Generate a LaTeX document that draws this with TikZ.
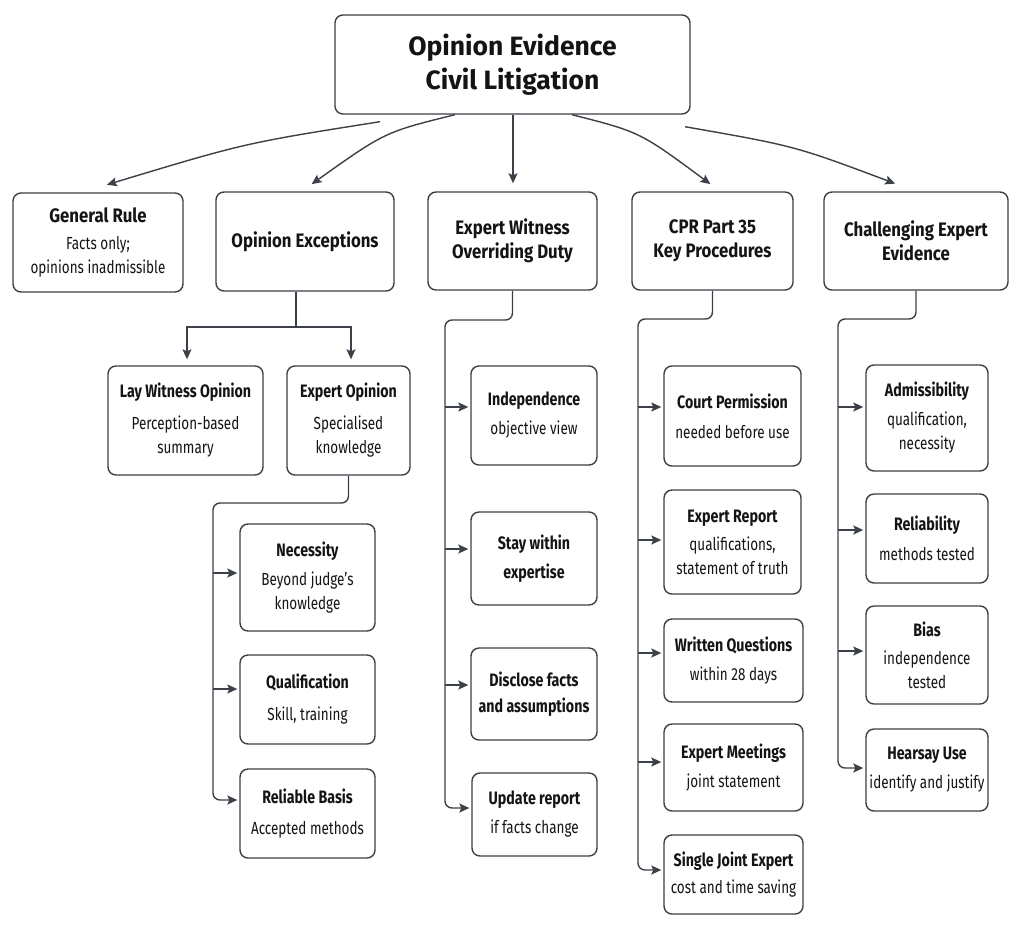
\documentclass[tikz,border=0pt]{standalone}
\usepackage{fontspec}
\setmainfont{Fira Sans}
\newfontfamily\bodyf{Fira Sans}[FakeStretch=0.77]
\newfontfamily\hdf{Fira Sans}[FakeStretch=0.79]
\newfontfamily\tophdf{Fira Sans}[FakeStretch=0.86]
\usetikzlibrary{arrows.meta,calc}
\definecolor{ln}{HTML}{3C4048}
\definecolor{tx}{HTML}{141414}
\newcommand{\hd}[1]{{\hdf\fontsize{18}{24}\selectfont\bfseries #1}}
\newcommand{\tophd}[1]{{\tophdf\fontsize{19.5}{25}\selectfont\bfseries #1}}
\tikzset{
  box/.style={draw=ln, line width=1.4pt, rounded corners=8pt, fill=white, align=center,
    text=tx, inner sep=2pt, font=\bodyf\fontsize{17.5}{24}\selectfont},
  arr/.style={draw=ln, line width=1.4pt, -{Stealth[length=10pt,width=9pt,inset=2pt]}, shorten >=2pt},
  trunk/.style={draw=ln, line width=1.4pt, rounded corners=7pt},
}
\begin{document}
\begin{tikzpicture}[x=1pt,y=-1pt]
\useasboundingbox[fill=white] (0,0) rectangle (1024,932);
% title
\node[box, minimum width=355pt, minimum height=99pt, font=\fontsize{26.5}{34}\selectfont\bfseries] (title) at (512.5,64.5) {Opinion Evidence\\Civil Litigation};
% level 1
\node[box, minimum width=170pt, minimum height=99pt] (gen) at (98,242.5) {\tophd{General Rule}\\[3pt]Facts only;\\opinions inadmissible};
\node[box, minimum width=178pt, minimum height=99pt] (exc) at (305,241.5) {\tophd{Opinion Exceptions}};
\node[box, minimum width=169pt, minimum height=98pt] (duty) at (512.5,241) {\tophd{Expert Witness}\\\tophd{Overriding Duty}};
\node[box, minimum width=161pt, minimum height=98pt] (cpr) at (712.5,241) {\tophd{CPR Part 35}\\\tophd{Key Procedures}};
\node[box, minimum width=184pt, minimum height=98pt] (chal) at (916,241) {\tophd{Challenging Expert}\\\tophd{Evidence}};
% opinion exceptions children
\node[box, minimum width=155pt, minimum height=109pt] (lay) at (185.5,420.5) {\hd{Lay Witness Opinion}\\[8pt]Perception-based\\summary};
\node[box, minimum width=123pt, minimum height=109pt] (expop) at (348.5,420.5) {\hd{Expert Opinion}\\[8pt]Specialised\\knowledge};
\node[box, minimum width=135pt, minimum height=107pt] (nec) at (307.5,577.5) {\hd{Necessity}\\[5pt]Beyond judge’s\\knowledge};
\node[box, minimum width=135pt, minimum height=89pt] (qual) at (307.5,699.5) {\hd{Qualification}\\[8pt]Skill, training};
\node[box, minimum width=135pt, minimum height=89pt] (rel) at (307.5,813.5) {\hd{Reliable Basis}\\[7pt]Accepted methods};
% duty children
\node[box, minimum width=126pt, minimum height=99pt] (ind) at (534,415.5) {\hd{Independence}\\[5pt]objective view};
\node[box, minimum width=126pt, minimum height=93pt] (stay) at (534,558.5) {\hd{Stay within}\\[5pt]\hd{expertise}};
\node[box, minimum width=126pt, minimum height=92pt] (disc) at (534,694) {\hd{Disclose facts}\\[2pt]\hd{and assumptions}};
\node[box, minimum width=125pt, minimum height=83pt] (upd) at (534.5,814.5) {\hd{Update report}\\[5pt]if facts change};
% cpr children
\node[box, minimum width=137pt, minimum height=100pt] (perm) at (732.5,416) {\hd{Court Permission}\\[6pt]needed before use};
\node[box, minimum width=137pt, minimum height=104pt] (rep) at (732.5,542) {\hd{Expert Report}\\[4pt]qualifications,\\statement of truth};
\node[box, minimum width=139pt, minimum height=83pt] (wq) at (733.5,660.5) {\hd{Written Questions}\\[5pt]within 28 days};
\node[box, minimum width=139pt, minimum height=87pt] (meet) at (733.5,767.5) {\hd{Expert Meetings}\\[5pt]joint statement};
\node[box, minimum width=139pt, minimum height=79pt] (sje) at (733.5,874.5) {\hd{Single Joint Expert}\\[3pt]cost and time saving};
% challenging children
\node[box, minimum width=122pt, minimum height=106pt] (adm) at (927,418) {\hd{Admissibility}\\[5pt]qualification,\\necessity};
\node[box, minimum width=122pt, minimum height=89pt] (relb) at (927,538.5) {\hd{Reliability}\\[6pt]methods tested};
\node[box, minimum width=122pt, minimum height=98pt] (bias) at (927,655) {\hd{Bias}\\[4pt]independence\\tested};
\node[box, minimum width=122pt, minimum height=82pt] (hear) at (927,770) {\hd{Hearsay Use}\\[5pt]identify and justify};
% top-level arrows
\draw[arr] ($(title.south)+(-132.5,7)$) .. controls (245,143) .. ($(gen.north)+(7,-7)$);
\draw[arr] ($(title.south)+(-57.5,0)$) .. controls (385,132) .. ($(exc.north)+(5,-6)$);
\draw[arr] ($(title.south)+(0.5,0)$) -- ($(duty.north)+(0.5,-6)$);
\draw[arr] ($(title.south)+(59.5,0)$) .. controls (640,132) .. ($(cpr.north)+(-0.5,-6)$);
\draw[arr] ($(title.south)+(172.5,12)$) .. controls (795,146) .. ($(chal.north)+(-19,-7)$);
% opinion exceptions
\coordinate (ej) at (296,327);
\draw[trunk] (exc.south -| ej) -- (ej);
\draw[arr] (ej) -| ($(lay.north)+(1.5,-4)$);
\draw[arr] (ej) -| ($(expop.north)+(2.5,-4)$);
% expert opinion trunk
\coordinate (oj) at (213,503);
\coordinate (neca) at ([yshift=4.5pt]nec.west);
\coordinate (quala) at ([yshift=10.5pt]qual.west);
\coordinate (rela) at ([yshift=13.5pt]rel.west);
\draw[trunk, arr] (expop.south) |- (oj) |- (rela);
\draw[arr] (oj |- neca) -- (neca);
\draw[arr] (oj |- quala) -- (quala);
% duty trunk
\coordinate (dj) at (445,320);
\coordinate (inda) at ([yshift=8.5pt]ind.west);
\coordinate (staya) at ([yshift=9.5pt]stay.west);
\coordinate (disca) at ([yshift=9pt]disc.west);
\coordinate (upda) at ([yshift=6.5pt]upd.west);
\draw[trunk, arr] (duty.south) |- (dj) |- (upda);
\draw[arr] (dj |- inda) -- (inda);
\draw[arr] (dj |- staya) -- (staya);
\draw[arr] (dj |- disca) -- (disca);
% cpr trunk
\coordinate (cj) at (638,319);
\coordinate (perma) at ([yshift=9pt]perm.west);
\coordinate (repa) at ([yshift=2pt]rep.west);
\coordinate (wqa) at ([yshift=7.5pt]wq.west);
\coordinate (meeta) at ([yshift=5.5pt]meet.west);
\coordinate (sjea) at ([yshift=4.5pt]sje.west);
\draw[trunk, arr] (cpr.south) |- (cj) |- (sjea);
\draw[arr] (cj |- perma) -- (perma);
\draw[arr] (cj |- repa) -- (repa);
\draw[arr] (cj |- wqa) -- (wqa);
\draw[arr] (cj |- meeta) -- (meeta);
% challenging trunk
\coordinate (hj) at (838,319);
\coordinate (adma) at ([yshift=11pt]adm.west);
\coordinate (relba) at ([yshift=8.5pt]relb.west);
\coordinate (biasa) at ([yshift=4pt]bias.west);
\coordinate (heara) at ([yshift=2pt]hear.west);
\draw[trunk, arr] (chal.south) |- (hj) |- (heara);
\draw[arr] (hj |- adma) -- (adma);
\draw[arr] (hj |- relba) -- (relba);
\draw[arr] (hj |- biasa) -- (biasa);
\end{tikzpicture}
\end{document}
